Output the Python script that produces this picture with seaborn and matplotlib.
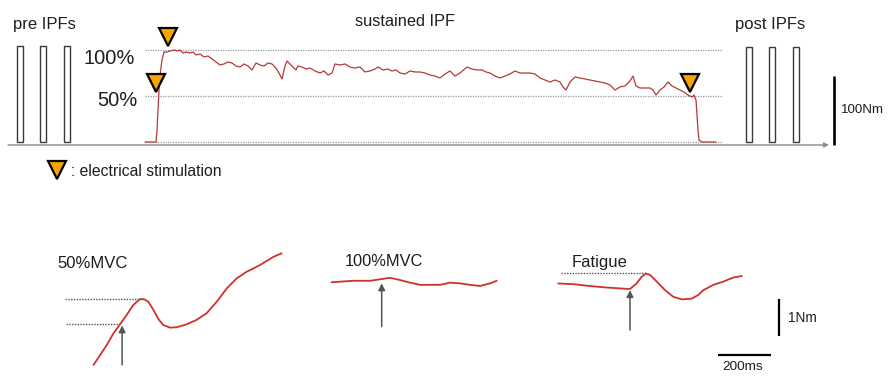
import matplotlib
matplotlib.use("Agg")
import matplotlib.pyplot as plt
import matplotlib.transforms as mtransforms
import seaborn as sns

# ---------------- data ----------------
# sustained IPF torque trace: time (s) and torque (% MVC)
ipf_time = [-1.3, -0.2, -0.1, 0.0, 0.1, 0.2, 0.4, 0.6, 0.9, 1.2, 1.6, 2.0, 2.2, 2.5, 2.8,
            3.2, 3.5, 3.8, 4.2, 4.6, 5.0, 5.4, 5.8, 6.2, 6.6, 7.0, 7.4, 7.8, 8.2, 8.6,
            9.0, 9.4, 9.8, 10.2, 10.6, 11.0, 11.4, 11.8, 12.1, 12.4, 12.7, 12.9, 13.2, 13.5, 13.8,
            14.0, 14.4, 14.8, 15.2, 15.7, 16.2, 16.6, 17.0, 17.4, 17.7, 18.2, 18.7, 19.2, 19.7, 20.2,
            20.7, 21.2, 21.7, 22.0, 22.5, 23.0, 23.4, 23.8, 24.2, 24.7, 25.2, 25.7, 26.2, 26.7, 27.2,
            27.7, 28.2, 28.7, 29.2, 29.7, 30.2, 30.9, 31.4, 31.9, 32.4, 32.8, 33.2, 33.7, 34.2, 34.7,
            35.2, 35.7, 36.2, 36.7, 37.2, 37.7, 38.2, 38.7, 39.2, 39.7, 40.2, 40.5, 40.8, 41.2, 41.7,
            42.2, 42.7, 43.2, 43.7, 44.2, 44.7, 45.2, 45.7, 46.2, 46.7, 47.2, 47.5, 47.8, 48.2, 48.7,
            49.2, 49.5, 49.8, 50.2, 50.6, 51.0, 51.4, 51.8, 52.2, 52.6, 53.0, 53.4, 53.6, 53.8, 53.9,
            54.0, 54.1, 54.4, 55.2, 55.8]
ipf_torque = [0, 0, 13.0, 34.8, 56.5, 72.8, 89.1, 97.8, 97.8, 98.9, 100, 98.9, 100, 96.7, 97.8,
              96.7, 97.8, 94.6, 95.7, 92.4, 93.5, 90.2, 87.0, 83.7, 84.8, 87.0, 85.9, 82.6, 81.5, 84.8,
              82.6, 78.3, 85.9, 83.7, 82.6, 85.9, 84.8, 80.4, 75.0, 68.5, 82.6, 88.0, 84.8, 81.5, 78.3,
              82.6, 81.5, 79.3, 80.4, 77.2, 75.0, 77.2, 72.8, 75.0, 84.8, 83.7, 84.8, 81.5, 80.4, 81.5,
              76.1, 77.2, 79.3, 81.5, 78.3, 79.3, 77.2, 78.3, 75.0, 73.9, 77.2, 76.1, 76.1, 75.0, 72.8,
              71.7, 69.6, 73.9, 77.2, 71.7, 75.0, 81.5, 79.3, 78.3, 78.3, 76.1, 75.0, 71.7, 69.6, 71.7,
              73.9, 77.2, 75.0, 75.0, 75.0, 73.9, 69.6, 67.4, 65.2, 67.4, 65.2, 59.8, 56.5, 65.2, 70.7,
              69.6, 68.5, 67.4, 66.3, 65.2, 64.1, 62.0, 56.5, 59.8, 60.9, 66.3, 71.7, 60.9, 58.7, 58.7,
              58.7, 56.5, 51.1, 56.5, 59.8, 65.2, 60.9, 58.7, 56.5, 54.3, 51.1, 48.9, 51.1, 45.7, 29.3,
              13.0, 2.2, 0, 0, 0]
ref_levels = [0, 50, 100]                 # % MVC dotted guides
stim_time = [-0.2, 1.0, 53.2]             # s, electrical stimulation
stim_level = [50, 100, 50]                # % MVC at stimulation
pre_ipf_time = [-13.8, -11.5, -9.1]       # s
pre_ipf_peak = [104, 104, 104]            # % MVC
post_ipf_time = [59.1, 61.4, 63.8]        # s
post_ipf_peak = [103, 103, 103]           # % MVC

# twitch responses: time from stimulation (ms), torque change (Nm)
mvc50_time = [-100, -75, -50, -25, 0, 25, 50, 75, 90, 107, 126, 145, 163, 189, 214, 252,
              289, 327, 365, 403, 440, 478, 528, 578, 610]
mvc50_torque = [-1.10, -0.83, -0.56, -0.25, 0, 0.25, 0.52, 0.68, 0.68, 0.61, 0.39, 0.14, -0.02,
                -0.09, -0.08, 0, 0.12, 0.30, 0.61, 0.97, 1.24, 1.42, 1.60, 1.82, 1.92]
mvc100_time = [-189, -108, -44, -6, 31, 69, 107, 145, 182, 220, 258, 296, 333, 371, 409, 434]
mvc100_torque = [-0.08, -0.04, -0.04, 0, 0.04, -0.02, -0.09, -0.15, -0.15, -0.15, -0.09, -0.11,
                 -0.15, -0.18, -0.11, -0.04]
fatigue_time = [-271, -214, -151, -88, -25, 0, 25, 44, 60, 76, 101, 132, 163, 195, 233, 258,
                277, 314, 352, 390, 422]
fatigue_torque = [0.15, 0.13, 0.08, 0.04, 0.01, 0, 0.15, 0.33, 0.42, 0.38, 0.20, -0.03, -0.21,
                  -0.28, -0.26, -0.16, -0.03, 0.11, 0.20, 0.31, 0.35]

# ---------------- figure ----------------
W, H, DPI = 893, 386, 100
sns.set_theme(style="white")
plt.rcParams['font.family'] = ['Liberation Sans', 'DejaVu Sans']
TXT = '#1e1e1e'
TRI = '#F5A400'

fig = plt.figure(figsize=(W / DPI, H / DPI), dpi=DPI)


def overlay_axes(x0_px, y0_px, sx, sy):
    ax = fig.add_axes([0, 0, 1, 1])
    ax.axis('off')
    lims = ((-x0_px / sx, (W - x0_px) / sx), ((y0_px - H) / sy, y0_px / sy))
    return ax, lims


def fix(ax, lims):
    ax.set_xlim(*lims[0])
    ax.set_ylim(*lims[1])
    ax.axis('off')


# pixel overlay for labels / layout
axp = fig.add_axes([0, 0, 1, 1])
axp.set_xlim(0, W)
axp.set_ylim(H, 0)
axp.axis('off')

# ---------- top panel ----------
axt, lt = overlay_axes(158, 142, 10, 0.92)
axt.hlines(ref_levels, -1.3, 56.4, colors='#9a9a9a', linestyles=(0, (1, 1)), lw=0.9)
sns.lineplot(x=ipf_time, y=ipf_torque, ax=axt, color='#b33a36', lw=0.9,
             sort=False, estimator=None)
axt.bar(pre_ipf_time, pre_ipf_peak, width=0.55, facecolor='white', edgecolor='#3a3a3a', lw=1.0)
axt.bar(post_ipf_time, post_ipf_peak, width=0.55, facecolor='white', edgecolor='#3a3a3a', lw=1.0)
off = mtransforms.offset_copy(axt.transData, fig=fig, y=9.5, units='points')
axt.plot(stim_time, stim_level, linestyle='none', marker='v', ms=13, mfc=TRI, mec='black',
         mew=1.6, transform=off, clip_on=False, zorder=6)
fix(axt, lt)

# baseline time axis with arrow
axp.annotate('', xy=(829, 145), xytext=(8, 145),
             arrowprops=dict(arrowstyle='-|>', color='#8a8a8a', lw=1.0, mutation_scale=7,
                             shrinkA=0, shrinkB=0))
# 100 Nm scale bar
axp.plot([834, 834], [76, 145], color='black', lw=1.9, solid_capstyle='butt')
axp.text(841, 110, '100Nm', fontsize=9.6, color=TXT, va='center', ha='left')

axp.text(13, 24, 'pre IPFs', fontsize=12, color=TXT, va='center', ha='left')
axp.text(405, 22, 'sustained IPF', fontsize=11.8, color=TXT, va='center', ha='center')
axp.text(735, 24, 'post IPFs', fontsize=12, color=TXT, va='center', ha='left')
axp.text(135, 58, '100%', fontsize=14.5, color=TXT, va='center', ha='right')
axp.text(137, 101, '50%', fontsize=14.5, color=TXT, va='center', ha='right')

# legend
axp.plot([57], [170], linestyle='none', marker='v', ms=13, mfc=TRI, mec='black', mew=1.6)
axp.text(71, 171, ': electrical stimulation', fontsize=11.3, color=TXT, va='center', ha='left')

# ---------- bottom panels ----------
SX, SY = 0.265, 37.0
RED = '#d0312d'
ARW = dict(arrowstyle='-|>', color='#555555', lw=1.1, mutation_scale=10, shrinkA=0, shrinkB=0)
DOT = dict(colors='#555555', linestyles=(0, (1, 1)), lw=1.0)

ax1, l1 = overlay_axes(120, 324.3, SX, SY)
ax1.hlines([max(mvc50_torque[:12])], -207, 90, **DOT)
ax1.hlines([0], -204, 0, **DOT)
sns.lineplot(x=mvc50_time, y=mvc50_torque, ax=ax1, color=RED, lw=1.3, sort=False, estimator=None)
ax1.annotate('', xy=(8, -0.03), xytext=(8, -1.10), arrowprops=ARW)
fix(ax1, l1)

ax2, l2 = overlay_axes(381.7, 279.3, SX, SY)
sns.lineplot(x=mvc100_time, y=mvc100_torque, ax=ax2, color=RED, lw=1.3, sort=False, estimator=None)
ax2.annotate('', xy=(0, -0.11), xytext=(0, -1.28), arrowprops=ARW)
fix(ax2, l2)

ax3, l3 = overlay_axes(630, 289, SX, SY)
ax3.hlines([max(fatigue_torque)], -261, 60, **DOT)
sns.lineplot(x=fatigue_time, y=fatigue_torque, ax=ax3, color=RED, lw=1.3, sort=False, estimator=None)
ax3.annotate('', xy=(0, -0.03), xytext=(0, -1.11), arrowprops=ARW)
# scale bars: 1 Nm and 200 ms
ax3.plot([563, 563], [-0.28, -1.28], color='black', lw=1.6, solid_capstyle='butt')
ax3.plot([331, 531], [-1.78, -1.78], color='black', lw=1.6, solid_capstyle='butt')
fix(ax3, l3)

axp.text(57, 263, '50%MVC', fontsize=12, color=TXT, va='center', ha='left')
axp.text(345, 262, '100%MVC', fontsize=11.8, color=TXT, va='center', ha='left')
axp.text(572, 263, 'Fatigue', fontsize=12, color=TXT, va='center', ha='left')
axp.text(788, 318, '1Nm', fontsize=9.8, color=TXT, va='center', ha='left')
axp.text(743, 367, '200ms', fontsize=9.7, color=TXT, va='center', ha='center')

fig.savefig('out.png', dpi=DPI, facecolor='white')
